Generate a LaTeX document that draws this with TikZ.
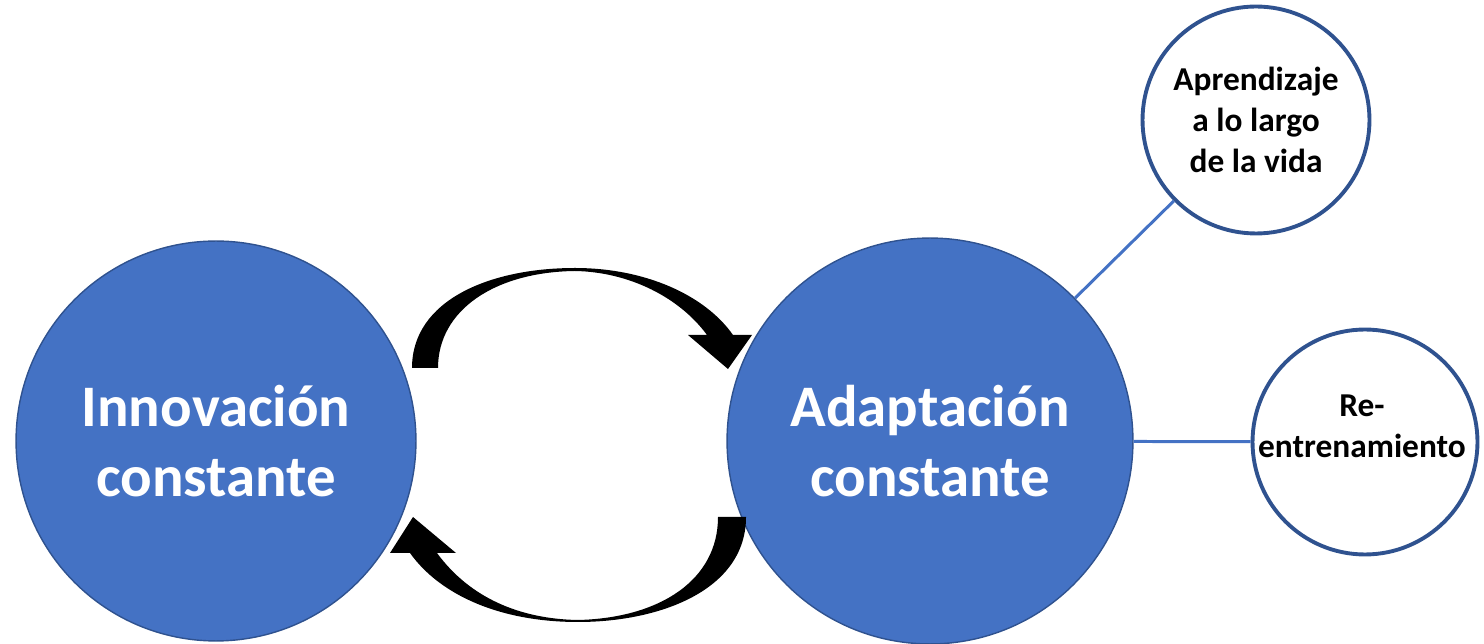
\documentclass[tikz,border=0pt]{standalone}
\usepackage{fontspec}
\setmainfont{Carlito}
\definecolor{cfill}{HTML}{4472C4}
\definecolor{cborder}{HTML}{2F528F}
\begin{document}
\begin{tikzpicture}[x=0.02cm,y=-0.02cm,
  bigcircle/.style={circle,fill=cfill,draw=cborder,line width=0.8pt,inner sep=0pt,
    text=white,font=\fontsize{33.5}{40}\selectfont\bfseries,align=center},
  smallcircle/.style={circle,fill=white,draw=cborder,line width=2.2pt,inner sep=0pt},
  smalltext/.style={font=\fontsize{19}{23.3}\selectfont\bfseries,align=center,text=black},
  link/.style={draw=cfill,line width=1.7pt},
  blockarrow/.style={fill=black,draw=none}]
\useasboundingbox (0,0) rectangle (1484,644);
\node[bigcircle,minimum size=8cm] (innov) at (216,441) {Innovación\\constante};
\node[bigcircle,minimum size=8.12cm] (adapt) at (930,441) {Adaptación\\constante};
\node[smallcircle,minimum size=4.54cm,smalltext] (apr) at (1256,120) {Aprendizaje\\a lo largo\\de la vida};
\node[smallcircle,minimum size=4.5cm] (re) at (1365,442) {};
\node[smalltext] (retext) at (1362,426) {Re-\\entrenamiento};
\draw[link] (adapt) -- (apr);
\draw[link] (adapt) -- (re);
% top curved arrow
\fill[blockarrow] (412,368) .. controls (412,300) and (490,268) .. (575,268)
  .. controls (645,268) and (705,295) .. (733,335)
  -- (752,335) -- (728,369) -- (688,335) -- (707,335)
  .. controls (680,298) and (630,272) .. (575,271)
  .. controls (495,272) and (438,310) .. (438,368) -- cycle;
% bottom curved arrow
\fill[blockarrow] (746,517) .. controls (746,590) and (660,622) .. (578,622)
  .. controls (500,622) and (440,595) .. (410,553)
  -- (390,553) -- (413,517) -- (456,553) -- (437,553)
  .. controls (470,598) and (520,619) .. (578,620)
  .. controls (660,618) and (718,580) .. (718,517) -- cycle;
\end{tikzpicture}
\end{document}
